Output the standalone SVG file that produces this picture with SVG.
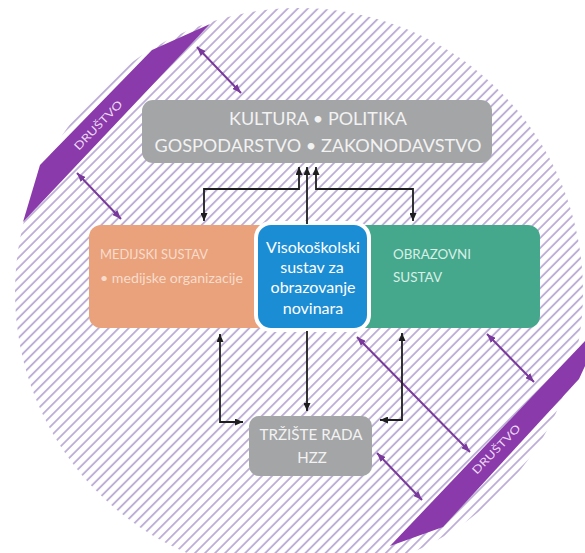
<svg xmlns="http://www.w3.org/2000/svg" width="585" height="553" viewBox="0 0 585 553">
<style>
.conn{fill:none;stroke:#1e1e1e;stroke-width:1.8}
.parr{fill:none;stroke:#7a3a9c;stroke-width:2}
.band{fill:#8a3aaa}
.bandtxt{font-family:Lato,"Liberation Sans",sans-serif;font-size:11px;fill:#ead8f2;text-anchor:middle}
.gtxt{font-family:Lato,"Liberation Sans",sans-serif;fill:#f2f2f2;text-anchor:middle}
.wtxt{font-family:Lato,"Liberation Sans",sans-serif;fill:#ffffff;text-anchor:middle;font-size:16px}
.otxt{font-family:Lato,"Liberation Sans",sans-serif;fill:#f8dccb;font-size:13px}
.ttxt{font-family:Lato,"Liberation Sans",sans-serif;fill:#d8efe7;font-size:13px}
</style>
<defs>
<pattern id="hatch" patternUnits="userSpaceOnUse" width="20" height="7.1" patternTransform="rotate(-45)">
<line x1="-1" y1="3.55" x2="21" y2="3.55" stroke="#bdaed6" stroke-width="1.9"/>
</pattern>
<marker id="ah" markerUnits="userSpaceOnUse" markerWidth="8" markerHeight="7" refX="8" refY="3.5" orient="auto-start-reverse">
<path d="M0,0 L8,3.5 L0,7 z" fill="#1e1e1e"/>
</marker>
<marker id="ph" markerUnits="userSpaceOnUse" markerWidth="9" markerHeight="7" refX="9" refY="3.5" orient="auto-start-reverse">
<path d="M0,0 L9,3.5 L0,7 z" fill="#7a3a9c"/>
</marker>
</defs>
<rect width="585" height="553" fill="#ffffff"/>
<circle id="society" cx="299" cy="292" r="284" fill="url(#hatch)"/>

<g id="band-top-left">
<polygon class="band" points="210,24 152,50 40,165 23,222"/>
<text class="bandtxt" x="0" y="0" transform="translate(101,128) rotate(-46)" textLength="64" lengthAdjust="spacingAndGlyphs">DRUŠTVO</text>
</g>
<g id="band-bottom-right">
<polygon class="band" points="390,546 585,341 585,366 579,379 443,527"/>
<text class="bandtxt" x="0" y="0" transform="translate(499,452) rotate(-46)" textLength="64" lengthAdjust="spacingAndGlyphs">DRUŠTVO</text>
</g>

<g id="society-connectors">
<line class="parr" x1="197" y1="47" x2="241" y2="93" marker-start="url(#ph)" marker-end="url(#ph)"/>
<line class="parr" x1="77" y1="173" x2="121" y2="219" marker-start="url(#ph)" marker-end="url(#ph)"/>
<line class="parr" x1="357" y1="337" x2="470" y2="452" marker-start="url(#ph)" marker-end="url(#ph)"/>
<line class="parr" x1="377" y1="453" x2="422" y2="500" marker-start="url(#ph)" marker-end="url(#ph)"/>
<line class="parr" x1="487" y1="334" x2="534" y2="382" marker-start="url(#ph)" marker-end="url(#ph)"/>
</g>

<g id="kultura">
<rect x="142" y="100" width="350" height="63" rx="11" fill="#a4a5a7"/>
<text class="gtxt" x="318" y="125" font-size="18" textLength="178" lengthAdjust="spacingAndGlyphs">KULTURA • POLITIKA</text>
<text class="gtxt" x="318" y="152" font-size="18" textLength="327" lengthAdjust="spacingAndGlyphs">GOSPODARSTVO • ZAKONODAVSTVO</text>
</g>

<g id="medijski">
<rect x="89" y="225" width="190" height="103" rx="12" fill="#e9a27c"/>
<text class="otxt" x="100" y="259" textLength="108" lengthAdjust="spacingAndGlyphs">MEDIJSKI SUSTAV</text>
<text class="otxt" x="100" y="283" textLength="143" lengthAdjust="spacingAndGlyphs">• medijske organizacije</text>
</g>

<g id="obrazovni">
<rect x="350" y="225" width="190" height="103" rx="12" fill="#45a88c"/>
<text class="ttxt" x="393" y="259" textLength="78" lengthAdjust="spacingAndGlyphs">OBRAZOVNI</text>
<text class="ttxt" x="393" y="282" textLength="49" lengthAdjust="spacingAndGlyphs">SUSTAV</text>
</g>

<g id="visokoskolski">
<rect x="256" y="223" width="113" height="107" rx="15" fill="#1b8dd4" stroke="#ffffff" stroke-width="4"/>
<text class="wtxt" x="313" y="253">Visokoškolski</text>
<text class="wtxt" x="312" y="273">sustav za</text>
<text class="wtxt" x="313" y="293">obrazovanje</text>
<text class="wtxt" x="313" y="314">novinara</text>
</g>

<g id="trziste">
<rect x="249" y="416" width="123" height="60" rx="10" fill="#a4a5a7"/>
<text class="gtxt" x="311" y="440" font-size="15" textLength="103" lengthAdjust="spacingAndGlyphs">TRŽIŠTE RADA</text>
<text class="gtxt" x="312" y="463" font-size="15">HZZ</text>
</g>

<g id="connectors">
<polyline class="conn" points="299,167 299,189 204,189 204,221" marker-start="url(#ah)" marker-end="url(#ah)"/>
<polyline class="conn" points="307,224 307,167" marker-end="url(#ah)"/>
<polyline class="conn" points="316,167 316,189 413,189 413,221" marker-start="url(#ah)" marker-end="url(#ah)"/>
<polyline class="conn" points="220,334 220,422 243,422" marker-start="url(#ah)" marker-end="url(#ah)"/>
<polyline class="conn" points="307,331 307,411" marker-end="url(#ah)"/>
<polyline class="conn" points="402,333 402,420 380,420" marker-start="url(#ah)" marker-end="url(#ah)"/>
</g>
</svg>
